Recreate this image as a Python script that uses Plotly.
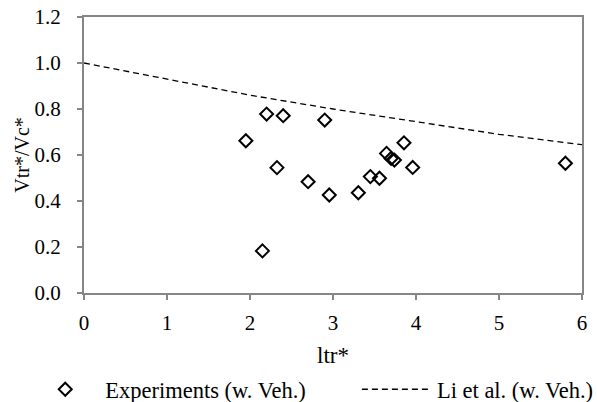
import plotly.graph_objects as go

exp_x = [1.95, 2.15, 2.20, 2.325, 2.40, 2.70, 2.90, 2.955, 3.305, 3.45, 3.56, 3.645, 3.70, 3.74, 3.855, 3.96, 5.80]
exp_y = [0.662, 0.183, 0.778, 0.545, 0.771, 0.484, 0.752, 0.426, 0.436, 0.506, 0.499, 0.607, 0.585, 0.578, 0.653, 0.546, 0.564]

li_x = [0, 1, 2, 3, 4, 5, 6]
li_y = [1.00, 0.93, 0.86, 0.80, 0.745, 0.69, 0.645]

x_ticks = [0, 1, 2, 3, 4, 5, 6]
y_ticks = [0.0, 0.2, 0.4, 0.6, 0.8, 1.0, 1.2]

FONT = "Liberation Serif, Times New Roman, serif"
AX = "#868686"

fig = go.Figure()
fig.add_trace(go.Scatter(
    x=exp_x, y=exp_y, mode="markers", name="Experiments (w. Veh.)", legend="legend",
    marker=dict(symbol="diamond-open", size=10, color="black", line=dict(width=2, color="black")),
))
fig.add_trace(go.Scatter(
    x=li_x, y=li_y, mode="lines", name="Li et al. (w. Veh.)", legend="legend2",
    line=dict(color="black", width=1.3, dash="6px,4px"),
))

leg_common = dict(orientation="h", xanchor="left", yanchor="middle", y=-0.35,
                  itemwidth=70, font=dict(family=FONT, size=22.5, color="black"),
                  bgcolor="rgba(0,0,0,0)", borderwidth=0)

fig.update_layout(
    width=597, height=402,
    margin=dict(l=84, r=15, t=17, b=109, autoexpand=False),
    paper_bgcolor="white", plot_bgcolor="white",
    font=dict(family=FONT, size=19, color="black"),
    showlegend=True,
    legend=dict(x=-0.118, **leg_common),
    legend2=dict(x=0.548, **leg_common),
    xaxis=dict(range=[0, 6], tickvals=x_ticks, showgrid=False, zeroline=False,
               showline=True, linecolor=AX, linewidth=2, mirror=True,
               ticks="outside", ticklen=5, tickcolor=AX, tickwidth=2,
               ticklabelstandoff=5,
               title=dict(text="ltr*", font=dict(family=FONT, size=23, color="black"), standoff=13),
               tickfont=dict(family=FONT, size=21, color="black")),
    yaxis=dict(range=[0, 1.2], tickvals=y_ticks, tickformat=".1f", showgrid=False, zeroline=False,
               showline=True, linecolor=AX, linewidth=2, mirror=True,
               ticks="outside", ticklen=5, tickcolor=AX, tickwidth=2,
               ticklabelstandoff=12,
               title=dict(text="Vtr*/Vc*", font=dict(family=FONT, size=20, color="black"), standoff=0),
               tickfont=dict(family=FONT, size=21, color="black")),
)

fig.write_html("out.html")
